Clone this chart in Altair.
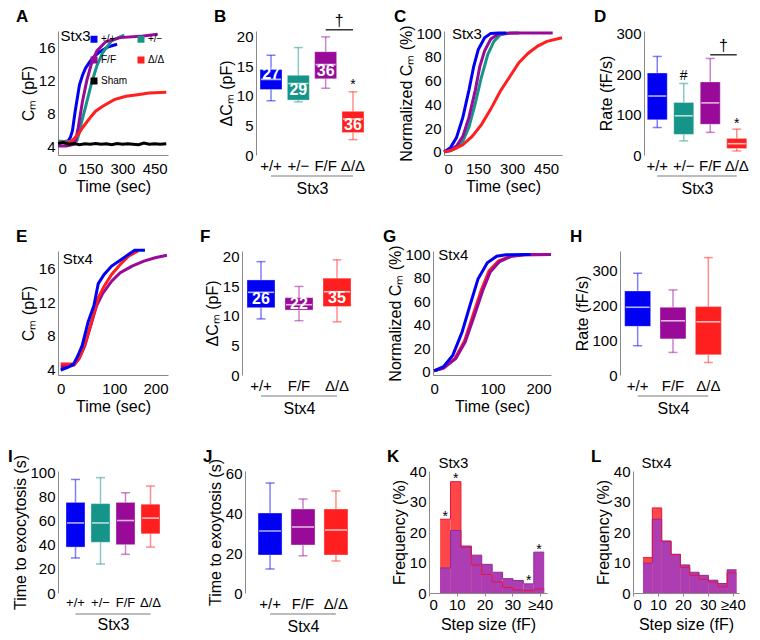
import altair as alt
import pandas as pd

FONT = "Liberation Sans"
BLUE = "#0000F2"
TEAL = "#15948A"
PURPLE = "#990A99"
RED = "#FF1F1F"
BLACK = "#000000"
H_RED = "#FF4747"
H_PURPLE = "#AD3DB3"
AX = "#8A8A8A"
UNDER = "#A6A6A6"

G3 = ["+/+", "+/\u2212", "F/F", "\u0394/\u0394"]
G4 = ["+/+", "F/F", "\u0394/\u0394"]
C3 = [BLUE, TEAL, PURPLE, RED]
C4 = [BLUE, PURPLE, RED]

# ---------------- A: Cm traces, Stx3 ----------------
a_wt_t = [0, 25, 47, 57, 67, 80, 100, 115, 128, 148, 168, 195, 235, 275]
a_wt_v = [4.6, 4.6, 4.7, 5.1, 5.9, 8.3, 11.5, 12.7, 13.5, 14.3, 14.9, 15.5, 16.1, 16.4]
a_het_t = [0, 40, 87, 97, 107, 128, 155, 181, 208, 249, 289, 309]
a_het_v = [4.7, 4.6, 4.7, 5.5, 6.7, 8.8, 11.6, 13.8, 15.4, 16.8, 17.3, 17.5]
a_ff_t = [0, 40, 74, 84, 94, 114, 134, 155, 181, 222, 289, 396, 464]
a_ff_v = [4.1, 4.1, 4.3, 5.0, 6.3, 9.5, 12.0, 14.0, 15.6, 16.7, 17.2, 17.4, 17.6]
a_del_t = [0, 40, 60, 94, 114, 155, 175, 208, 262, 316, 370, 423, 504]
a_del_v = [4.5, 4.5, 4.6, 5.5, 6.3, 7.7, 8.3, 8.9, 9.7, 10.1, 10.3, 10.5, 10.6]
a_sham_t = [0, 25, 50, 75, 100, 125, 150, 175, 200, 225, 250, 275, 300, 325, 350, 375, 400, 425, 450, 475, 504]
a_sham_v = [4.4, 4.5, 4.3, 4.4, 4.25, 4.35, 4.3, 4.4, 4.3, 4.35, 4.25, 4.4, 4.3, 4.35, 4.3, 4.25, 4.45, 4.3, 4.35, 4.3, 4.35]

# ---------------- C: normalized, Stx3 ----------------
c_wt_t = [0, 28, 55, 83, 110, 131, 151, 179, 206, 240, 275]
c_wt_v = [0, 3.4, 12, 29, 52, 72, 86, 96, 99.7, 100, 100]
c_het_t = [0, 28, 55, 83, 110, 138, 165, 193, 220, 248, 289, 330]
c_het_v = [0, 1, 3.4, 9, 21, 41, 63, 82, 93, 98.6, 100, 100]
c_ff_t = [0, 28, 55, 83, 110, 138, 158, 179, 206, 241, 316, 479]
c_ff_v = [0, 1.4, 5, 13, 29, 52, 72, 85, 95, 99.4, 100, 100]
c_del_t = [0, 41, 83, 124, 165, 206, 248, 289, 330, 371, 413, 454, 520]
c_del_v = [0, 2, 6, 13, 23, 36, 51, 63, 75, 83, 89, 93, 96]

# ---------------- E: Cm traces, Stx4 ----------------
e_wt_t = [0, 13, 24, 32, 40, 51, 62, 70, 81, 95, 111, 127, 138, 157]
e_wt_v = [3.9, 4.2, 4.6, 5.6, 6.8, 9.6, 11.6, 14.2, 15.3, 16.3, 17.0, 17.7, 18.2, 18.2]
e_ff_t = [0, 15, 25, 34, 45, 56, 67, 78, 95, 111, 133, 155, 176, 198]
e_ff_v = [4.3, 4.3, 4.5, 5.2, 6.8, 9.2, 11.6, 13.0, 14.5, 15.5, 16.3, 16.9, 17.3, 17.6]
e_del_t = [0, 15, 26, 37, 48, 59, 70, 81, 95, 111, 127, 144]
e_del_v = [4.6, 4.6, 4.6, 5.6, 7.6, 10.0, 12.5, 13.9, 15.3, 16.5, 17.5, 18.1]

# ---------------- G: normalized, Stx4 ----------------
g_wt_t = [0, 16, 32, 48, 61, 75, 91, 107, 123, 165]
g_wt_v = [0.6, 4.2, 14, 34, 56, 79, 93, 98.6, 99.7, 100]
g_del_t = [0, 16, 36, 52, 67, 81, 94, 110, 131, 153, 200]
g_del_v = [0.6, 3, 11.5, 26, 49, 70, 86, 94.5, 98.7, 99.7, 100]
g_ff_t = [0, 16, 37, 53, 69, 83, 96, 112, 133, 155, 200]
g_ff_v = [0.6, 2.8, 11, 25, 48, 69, 85, 94, 98.6, 99.7, 100]

# ---------------- Box plot summaries (lo, q1, median, q3, hi) ----------------
b_lo = [9.2, 9.0, 11.3, 2.6]
b_q1 = [11.1, 9.3, 12.9, 3.8]
b_med = [12.8, 12.1, 15.3, 6.1]
b_q3 = [14.5, 13.5, 17.5, 7.4]
b_hi = [16.9, 18.2, 20.0, 10.7]
b_n = ["27", "29", "36", "36"]
b_ny = [13.7, 11.0, 14.2, 5.0]

d_lo = [68, 35, 56, 10]
d_q1 = [87, 51, 76, 16]
d_med = [146, 97, 129, 28]
d_q3 = [203, 130, 181, 41]
d_hi = [244, 177, 239, 64]

f_lo = [9.5, 9.2, 9.0]
f_q1 = [11.4, 11.0, 11.6]
f_med = [14.0, 11.9, 14.1]
f_q3 = [16.1, 13.1, 16.4]
f_hi = [19.2, 15.0, 19.5]
f_n = ["26", "22", "35"]
f_ny = [12.8, 12.1, 13.1]

h_lo = [84, 65, 36]
h_q1 = [140, 104, 58]
h_med = [195, 156, 153]
h_q3 = [242, 195, 197]
h_hi = [293, 245, 338]

i_lo = [29, 24, 32, 38]
i_q1 = [38, 42, 40, 49]
i_med = [58, 58, 60, 62]
i_q3 = [75, 74, 75, 73.5]
i_hi = [94, 95.5, 83, 88.6]

j_lo = [12, 18.6, 16]
j_q1 = [19, 24, 19]
j_med = [31, 33, 31.5]
j_q3 = [40, 42, 42]
j_hi = [55, 47, 51]

# ---------------- Histograms ----------------
bin_lo = [4.0, 7.75, 11.5, 15.25, 19.0, 22.75, 26.5, 30.25, 34.0, 37.75]
bin_hi = [7.75, 11.5, 15.25, 19.0, 22.75, 26.5, 30.25, 34.0, 37.75, 41.5]
k_red = [24.2, 36.5, 15.0, 9.2, 6.1, 3.6, 1.8, 1.0, 0.8, 1.3]
k_pur = [8.2, 20.5, 15.4, 12.4, 9.4, 6.8, 4.7, 4.1, 3.0, 13.4]
k_star_bin = [0, 1, 8, 9]
k_star_y = [26.0, 38.4, 4.9, 15.0]
l_red = [11.6, 27.9, 17.0, 12.6, 8.4, 5.8, 4.5, 3.6, 2.0, 6.6]
l_pur = [9.8, 24.2, 17.0, 12.7, 9.2, 6.8, 5.8, 4.2, 3.1, 7.6]

LAB = 15
TIT = 16
LTOP = 22


def letter(ch, dx, dy):
    return alt.Chart(pd.DataFrame({"s": [ch]})).mark_text(
        align="left", baseline="top", fontSize=17, fontWeight="bold", font=FONT, color="black"
    ).encode(text="s:N", x=alt.value(dx), y=alt.value(dy))


def yaxis(title, values, extent):
    return alt.Axis(title=title, values=values, ticks=True, tickSize=0, labelPadding=3,
                    minExtent=extent, maxExtent=extent, titlePadding=2, grid=False)


def line_panel(series, xdom, xticks, ydom, yticks, ytitle, W, H, extent, let, tag, tag_t, tag_v,
               legend_order=None):
    rows = []
    for name, col, ts, vs in series:
        for t, v in zip(ts, vs):
            rows.append({"t": t, "v": v, "g": name, "c": col})
    df = pd.DataFrame(rows)
    X = alt.X("t:Q", scale=alt.Scale(domain=xdom, nice=False, zero=False),
              axis=alt.Axis(title="Time (sec)", values=xticks, ticks=True, tickSize=0, labelPadding=6,
                            titlePadding=2, grid=False))
    Y = alt.Y("v:Q", scale=alt.Scale(domain=ydom, nice=False, zero=False), axis=yaxis(ytitle, yticks, extent))
    if legend_order:
        cmap = {s[0]: s[1] for s in series}
        col = alt.Color("g:N", scale=alt.Scale(domain=legend_order, range=[cmap[n] for n in legend_order]),
                        legend=alt.Legend(orient="top-right", offset=3, columns=2, symbolType="square",
                                          symbolSize=9, symbolStrokeWidth=4, labelFontSize=10, labelFont=FONT,
                                          title=None, columnPadding=3, rowPadding=1, labelOffset=2, padding=0))
    else:
        col = alt.Color("c:N", scale=None)
    lines = alt.Chart(df).mark_line(strokeWidth=3).encode(x=X, y=Y, color=col, detail="g:N")
    tagc = alt.Chart(pd.DataFrame({"t": [tag_t], "v": [tag_v], "s": [tag]})).mark_text(
        align="left", baseline="alphabetic", fontSize=LAB, font=FONT, color="black"
    ).encode(x=X, y=Y, text="s:N")
    return alt.layer(lines, tagc, letter(let, -(extent + 22), -LTOP)).properties(width=W, height=H)


def box_panel(cats, cols, lo, q1, med, q3, hi, ymax, yticks, ytitle, gene, W, H, outer, box_px, extent, let,
              counts=None, count_y=None, notes=None, bracket=None, xlab=LAB):
    df = pd.DataFrame({"g": cats, "c": cols, "lo": lo, "q1": q1, "med": med, "q3": q3, "hi": hi})
    X = alt.X("g:N", sort=cats, scale=alt.Scale(type="band", domain=cats, paddingInner=0, paddingOuter=outer),
              axis=alt.Axis(title=gene, domain=False, ticks=True, tickSize=0, labelAngle=0, labelPadding=3,
                            titlePadding=7, labelFontSize=xlab))
    ys = alt.Scale(domain=[0, ymax], nice=False, zero=True)
    ax = yaxis(ytitle, yticks, extent)

    def Y(f):
        return alt.Y(f + ":Q", scale=ys, axis=ax)

    color = alt.Color("c:N", scale=None)
    base = alt.Chart(df)
    layers = [
        base.mark_rule(strokeWidth=1.5, opacity=0.5).encode(x=X, y=Y("lo"), y2="hi:Q", color=color),
        base.mark_tick(size=9, thickness=1.5, opacity=0.5).encode(x=X, y=Y("lo"), color=color),
        base.mark_tick(size=9, thickness=1.5, opacity=0.5).encode(x=X, y=Y("hi"), color=color),
        base.mark_bar(size=box_px, stroke="white", strokeOpacity=0.35, strokeWidth=1).encode(
            x=X, y=Y("q1"), y2="q3:Q", color=color),
        base.mark_tick(size=box_px - 2, thickness=1.6, color="white").encode(x=X, y=Y("med")),
    ]
    if counts:
        cdf = pd.DataFrame({"g": cats, "y": count_y, "s": counts})
        layers.append(alt.Chart(cdf).mark_text(color="white", fontWeight="bold", fontSize=16, font=FONT,
                                               baseline="middle").encode(x=X, y=Y("y"), text="s:N"))
    if notes:
        ndf = pd.DataFrame(notes, columns=["g", "y", "s"])
        layers.append(alt.Chart(ndf).mark_text(color="black", fontSize=14, font=FONT,
                                               baseline="middle").encode(x=X, y=Y("y"), text="s:N"))
    step = W / (len(cats) + 2 * outer)
    if bracket:
        bdf = pd.DataFrame({"g": [cats[-2], cats[-1]], "y": [bracket, bracket]})
        layers.append(alt.Chart(bdf).mark_line(color="black", strokeWidth=1.2).encode(x=X, y=Y("y")))
        tdf = pd.DataFrame({"g": [cats[-2]], "y": [bracket], "s": ["\u2020"]})
        layers.append(alt.Chart(tdf).mark_text(color="black", fontSize=16, font=FONT, baseline="bottom",
                                               dx=step / 2, dy=-1).encode(x=X, y=Y("y"), text="s:N"))
    udf = pd.DataFrame({"g": [cats[0], cats[-1]]})
    layers.append(alt.Chart(udf).mark_line(color=UNDER, strokeWidth=1.5).encode(x=X, y=alt.value(H + 21)))
    layers.append(letter(let, -(extent + 22), -LTOP))
    return alt.layer(*layers).properties(width=W, height=H)


def hist_panel(red, pur, stars_bin, stars_y, tag, W, H, extent, let):
    df = pd.DataFrame({"a": bin_lo, "b": bin_hi, "r": red, "p": pur})
    X = alt.X("a:Q", scale=alt.Scale(domain=[0, 42.5], nice=False, zero=False),
              axis=alt.Axis(title="Step size (fF)", values=[0, 10, 20, 30, 40], ticks=True, tickSize=3,
                            tickColor=AX, labelExpr="datum.value == 40 ? '\u226540' : datum.label",
                            labelPadding=1, titlePadding=4, grid=False))
    ys = alt.Scale(domain=[0, 40], nice=False)
    ax = yaxis("Frequency (%)", [0, 10, 20, 30, 40], extent)

    def Y(f):
        return alt.Y(f + ":Q", scale=ys, axis=ax)

    base = alt.Chart(df).transform_calculate(z="0")
    sdf = pd.DataFrame({"a": bin_lo + [bin_hi[-1]], "r": red + [red[-1]], "p": pur + [pur[-1]]})
    layers = [
        base.mark_rect(color=H_RED).encode(x=X, x2="b:Q", y=Y("r"), y2="z:Q"),
        base.mark_rect(color=H_PURPLE).encode(x=X, x2="b:Q", y=Y("p"), y2="z:Q"),
        alt.Chart(sdf).mark_line(interpolate="step-after", color="#8E2A95", strokeWidth=1).encode(x=X, y=Y("p")),
        alt.Chart(sdf).mark_line(interpolate="step-after", color="#E3163E", strokeWidth=1).encode(x=X, y=Y("r")),
    ]
    if stars_bin:
        st = pd.DataFrame({"a": [(bin_lo[i] + bin_hi[i]) / 2 for i in stars_bin], "y": stars_y,
                           "s": ["*"] * len(stars_bin)})
        layers.append(alt.Chart(st).mark_text(fontSize=14, font=FONT, color="black", baseline="middle", dy=3)
                      .encode(x=X, y=Y("y"), text="s:N"))
    tg = pd.DataFrame({"a": [3.4], "y": [41.0], "s": [tag]})
    layers.append(alt.Chart(tg).mark_text(fontSize=LAB, font=FONT, color="black", align="left",
                                          baseline="alphabetic").encode(x=X, y=Y("y"), text="s:N"))
    layers.append(letter(let, -(extent + 22), -LTOP))
    return alt.layer(*layers).properties(width=W, height=H)


CM = "C\u2098 (pF)"
DCM = "\u0394C\u2098 (pF)"
NCM = "Normalized C\u2098 (%)"

pA = line_panel([("+/+", BLUE, a_wt_t, a_wt_v), ("+/\u2212", TEAL, a_het_t, a_het_v),
                 ("F/F", PURPLE, a_ff_t, a_ff_v), ("\u0394/\u0394", RED, a_del_t, a_del_v),
                 ("Sham", BLACK, a_sham_t, a_sham_v)],
                [0, 512], [0, 150, 300, 450], [3, 18], [4, 8, 12, 16], CM, 110, 124, 20, "A",
                "Stx3", 12, 16.8, legend_order=["+/+", "F/F", "Sham", "+/\u2212", "\u0394/\u0394"])
pB = box_panel(G3, C3, b_lo, b_q1, b_med, b_q3, b_hi, 21, [0, 5, 10, 15, 20], DCM, "Stx3", 112, 124, 0.05, 22, 20,
               "B", counts=b_n, count_y=b_ny, notes=[("\u0394/\u0394", 11.8, "*")], bracket=21.2)
pC = line_panel([("+/\u2212", TEAL, c_het_t, c_het_v), ("F/F", PURPLE, c_ff_t, c_ff_v),
                 ("+/+", BLUE, c_wt_t, c_wt_v), ("\u0394/\u0394", RED, c_del_t, c_del_v)],
                [0, 520], [0, 150, 300, 450], [-2.6, 101.7], [0, 20, 40, 60, 80, 100], NCM, 118, 124, 28, "C",
                "Stx3", 35, 95)
pD = box_panel(G3, C3, d_lo, d_q1, d_med, d_q3, d_hi, 307, [0, 100, 200, 300], "Rate (fF/s)", "Stx3", 106, 124, 0.0,
               20, 28, "D", notes=[("+/\u2212", 195, "#"), ("\u0394/\u0394", 76, "*")], bracket=248)

pE = line_panel([("F/F", PURPLE, e_ff_t, e_ff_v), ("\u0394/\u0394", RED, e_del_t, e_del_v),
                 ("+/+", BLUE, e_wt_t, e_wt_v)],
                [-5, 200], [0, 50, 100, 150, 200], [3.3, 18.1], [4, 8, 12, 16], CM, 110, 124, 20, "E",
                "Stx4", 4, 16.5)
pF = box_panel(G4, C4, f_lo, f_q1, f_med, f_q3, f_hi, 21, [0, 5, 10, 15, 20], DCM, "Stx4", 114, 124, 0.0, 28, 20,
               "F", counts=f_n, count_y=f_ny)
pG = line_panel([("\u0394/\u0394", RED, g_del_t, g_del_v), ("F/F", PURPLE, g_ff_t, g_ff_v),
                 ("+/+", BLUE, g_wt_t, g_wt_v)],
                [-2, 200], [0, 50, 100, 150, 200], [-3, 103], [0, 20, 40, 60, 80, 100], NCM, 118, 124, 28, "G",
                "Stx4", 7, 95)
pH = box_panel(G4, C4, h_lo, h_q1, h_med, h_q3, h_hi, 357, [0, 100, 200, 300], "Rate (fF/s)", "Stx4", 106, 124, 0.0,
               26, 28, "H")

pI = box_panel(G3, C3, i_lo, i_q1, i_med, i_q3, i_hi, 101, [0, 20, 40, 60, 80, 100], "Time to exocytosis (s)",
               "Stx3", 110, 122, 0.2, 19, 28, "I", xlab=13)
pJ = box_panel(G4, C4, j_lo, j_q1, j_med, j_q3, j_hi, 61, [0, 20, 40, 60], "Time to exoytosis (s)", "Stx4", 116,
               122, 0.26, 24, 20, "J")
pK = hist_panel(k_red, k_pur, k_star_bin, k_star_y, "Stx3", 118, 122, 20, "K")
pL = hist_panel(l_red, l_pur, [], [], "Stx4", 106, 122, 20, "L")


def hc(*charts, spacing):
    return alt.hconcat(*charts, spacing=spacing).resolve_scale(color="independent")


row1 = hc(hc(pA, pB, spacing=41), hc(pC, pD, spacing=26), spacing=26)
row2 = hc(hc(pE, pF, pG, spacing=27), pH, spacing=13)
row3 = hc(hc(pI, pJ, spacing=35), hc(pK, pL, spacing=38), spacing=26)

top2 = alt.concat(row1, row2, columns=1, spacing=32, align="none").resolve_scale(color="independent")
chart = alt.concat(top2, row3, columns=1, spacing=32, align="none").resolve_scale(color="independent").properties(
    padding=0, background="white"
).configure_view(stroke=None).configure_axis(
    labelFont=FONT, titleFont=FONT, labelFontSize=LAB, titleFontSize=TIT, titleFontWeight="normal",
    labelColor="black", titleColor="black", domainColor=AX, domainWidth=1, grid=False
)

chart.save("out.html", embed_options={"renderer": "svg", "actions": False})
